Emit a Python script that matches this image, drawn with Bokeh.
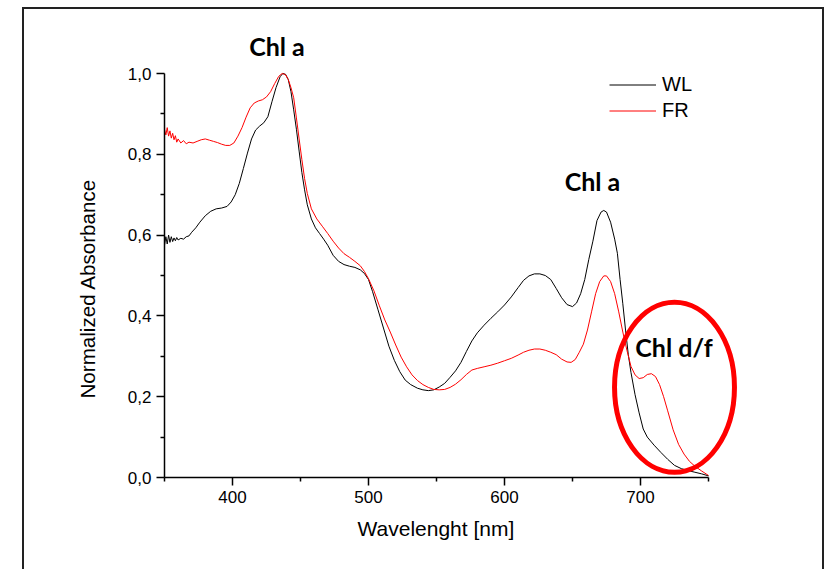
from bokeh.plotting import figure
from bokeh.models import (Range1d, FixedTicker, CustomJSTickFormatter, Legend, LegendItem,
                          Label, Title)
from bokeh.embed import file_html
from bokeh.resources import INLINE

# ---------------- data ----------------
wl_nm = [350, 351, 352, 353, 354, 355, 356, 357, 358, 359, 360, 362, 364, 366, 368, 370,
         373, 376, 380, 384, 388, 392, 396, 399, 402, 405, 408, 411, 414, 417, 420, 423,
         426, 429, 432, 435, 437, 439, 441, 443, 445, 447, 449, 451, 453, 455, 458, 461,
         464, 467, 470, 474, 478, 482, 486, 490, 494, 497, 500, 503, 507, 511, 515, 519,
         523, 527, 531, 536, 540, 544, 548, 552, 556, 560, 564, 568, 572, 576, 580, 585,
         590, 595, 600, 605, 610, 614, 618, 622, 626, 630, 634, 638, 642, 646, 650, 653,
         656, 659, 662, 665, 668, 671, 673, 675, 678, 681, 683, 685, 687, 689, 691, 693,
         696, 699, 702, 705, 710, 715, 720, 725, 730, 735, 740, 745, 750]
wl_abs = [0.575, 0.596, 0.578, 0.600, 0.582, 0.596, 0.584, 0.593, 0.586, 0.594, 0.588, 0.592,
          0.590, 0.596, 0.598, 0.607, 0.618, 0.632, 0.648, 0.659, 0.665, 0.667, 0.671, 0.682,
          0.700, 0.728, 0.765, 0.803, 0.838, 0.860, 0.870, 0.878, 0.893, 0.930, 0.965, 0.992,
          1.000, 0.998, 0.985, 0.955, 0.910, 0.862, 0.808, 0.755, 0.712, 0.675, 0.640, 0.618,
          0.604, 0.590, 0.575, 0.550, 0.535, 0.527, 0.523, 0.520, 0.514, 0.505, 0.490, 0.460,
          0.415, 0.370, 0.325, 0.290, 0.262, 0.241, 0.230, 0.221, 0.217, 0.215, 0.217, 0.224,
          0.233, 0.248, 0.264, 0.285, 0.312, 0.338, 0.358, 0.377, 0.394, 0.410, 0.427, 0.447,
          0.470, 0.488, 0.499, 0.504, 0.504, 0.500, 0.490, 0.468, 0.445, 0.428, 0.423, 0.432,
          0.455, 0.490, 0.540, 0.585, 0.636, 0.657, 0.661, 0.657, 0.632, 0.590, 0.555, 0.490,
          0.430, 0.365, 0.305, 0.260, 0.205, 0.160, 0.120, 0.100, 0.080, 0.062, 0.045, 0.030,
          0.022, 0.017, 0.013, 0.009, 0.004]

fr_nm = [350, 351, 352, 353, 354, 355, 356, 357, 358, 359, 360, 362, 364, 366, 368, 371,
         374, 377, 380, 383, 386, 389, 392, 395, 398, 401, 404, 407, 410, 413, 416, 419,
         422, 425, 428, 431, 434, 436.5, 439, 441, 443, 445, 447, 449, 451, 453, 455, 458,
         462, 466, 470, 474, 478, 482, 486, 490, 494, 497, 500, 504, 508, 512, 516, 520,
         524, 528, 532, 536, 540, 544, 548, 552, 556, 560, 564, 568, 572, 576, 580, 585,
         590, 595, 600, 605, 610, 614, 618, 622, 626, 630, 634, 638, 642, 646, 649, 652,
         655, 658, 661, 664, 667, 670, 673, 675, 678, 681, 684, 687, 690, 693, 696, 699,
         702, 705, 708, 711, 714, 717, 720, 724, 728, 732, 736, 740, 745, 750]
fr_abs = [0.862, 0.848, 0.866, 0.845, 0.858, 0.840, 0.852, 0.836, 0.846, 0.830, 0.838, 0.828,
          0.834, 0.826, 0.830, 0.828, 0.832, 0.836, 0.838, 0.835, 0.832, 0.829, 0.825, 0.822,
          0.822, 0.828, 0.845, 0.866, 0.892, 0.915, 0.927, 0.932, 0.935, 0.942, 0.955, 0.975,
          0.993, 1.000, 0.997, 0.985, 0.965, 0.940, 0.890, 0.838, 0.787, 0.740, 0.703, 0.665,
          0.640, 0.622, 0.604, 0.585, 0.568, 0.554, 0.545, 0.535, 0.524, 0.510, 0.492, 0.462,
          0.425, 0.390, 0.360, 0.328, 0.298, 0.274, 0.254, 0.240, 0.230, 0.223, 0.218, 0.217,
          0.218, 0.223, 0.231, 0.242, 0.255, 0.266, 0.270, 0.274, 0.278, 0.283, 0.289, 0.295,
          0.303, 0.310, 0.315, 0.318, 0.318, 0.315, 0.310, 0.304, 0.293, 0.286, 0.285, 0.292,
          0.310, 0.330, 0.365, 0.410, 0.455, 0.485, 0.499, 0.499, 0.485, 0.455, 0.410, 0.360,
          0.315, 0.275, 0.254, 0.245, 0.247, 0.255, 0.257, 0.250, 0.230, 0.200, 0.165, 0.118,
          0.082, 0.058, 0.040, 0.028, 0.016, 0.005]

x_ticks = [400, 500, 600, 700]
x_minor = [350, 450, 550, 650, 750]
y_ticks = [0.0, 0.2, 0.4, 0.6, 0.8, 1.0]
y_minor = [0.1, 0.3, 0.5, 0.7, 0.9]
series_names = ["WL", "FR"]
series_colors = ["#000000", "#ff0000"]
x_title = "Wavelenght [nm]"
y_title = "Normalized Absorbance"

# annotation texts
peak_labels = ["Chl a", "Chl a", "Chl d/f"]

# ---------------- figure ----------------
PX_X = 1.36     # px per nm
PX_Y = 404.0    # px per absorbance unit
FW, FH = 616, 457
x_end = 350 + FW / PX_X
y_end = FH / PX_Y

p = figure(frame_width=FW, frame_height=FH,
           min_border_left=140, min_border_right=42, min_border_top=11, min_border_bottom=92,
           x_range=Range1d(350, x_end), y_range=Range1d(0, y_end),
           output_backend="svg", toolbar_location=None,
           background_fill_color="white", border_fill_color="white")
p.outline_line_color = None
p.grid.visible = False
# outer frame of the figure panel (left, top and right edges)
p.styles = {"margin-left": "22px", "margin-top": "7px",
            "border-left": "2px solid #222222", "border-top": "2px solid #222222",
            "border-right": "2px solid #222222"}

r_wl = p.line(wl_nm, wl_abs, line_color=series_colors[0], line_width=1)
r_fr = p.line(fr_nm, fr_abs, line_color=series_colors[1], line_width=1)

fmt = CustomJSTickFormatter(code="return tick.toFixed(1).replace('.', ',');")

for ax in (p.xaxis[0], p.yaxis[0]):
    ax.axis_line_color = "black"
    ax.axis_line_width = 1.5
    ax.major_tick_line_color = "black"
    ax.minor_tick_line_color = "black"
    ax.major_tick_line_width = 1.5
    ax.minor_tick_line_width = 1.5
    ax.major_tick_in = 0
    ax.major_tick_out = 8
    ax.minor_tick_in = 0
    ax.minor_tick_out = 4
    ax.major_label_text_font = "Liberation Sans"
    ax.major_label_text_font_size = "17px"
    ax.major_label_text_color = "black"

p.xaxis.bounds = (350, 750)
p.yaxis.bounds = (0, 1.0)
p.xaxis.ticker = FixedTicker(ticks=x_ticks, minor_ticks=x_minor)
p.yaxis.ticker = FixedTicker(ticks=y_ticks, minor_ticks=y_minor)
p.yaxis.formatter = fmt
p.xaxis.major_label_standoff = 5
p.yaxis.major_label_standoff = 5

# axis titles, placed in the side panels next to the axes (centred on the axis extent)
p.add_layout(Title(text=y_title, align="left", offset=79, standoff=52,
                   text_font="Liberation Sans", text_font_size="20.6px",
                   text_font_style="normal", text_color="black"), "left")
p.add_layout(Title(text=x_title, align="left", offset=193, standoff=18,
                   text_font="Liberation Sans", text_font_size="21px",
                   text_font_style="normal", text_color="black"), "below")

# peak annotations
label_pos = [(432.7, 1.069), (664.7, 0.734), (724.6, 0.324)]
for txt, (lx, ly) in zip(peak_labels, label_pos):
    p.add_layout(Label(x=lx, y=ly, text=txt, text_align="center", text_baseline="alphabetic",
                       text_font="Lato", text_font_style="bold", text_font_size="25px",
                       text_color="black"))

# red ellipse highlighting Chl d/f
p.ellipse(x=[725.0], y=[0.2235], width=[88.2], height=[0.421],
          fill_color=None, line_color="#ff0000", line_width=5)

# legend
legend = Legend(items=[LegendItem(label=series_names[0], renderers=[r_wl]),
                       LegendItem(label=series_names[1], renderers=[r_fr])],
                location=(445, 355), orientation="vertical")
legend.background_fill_alpha = 0
legend.border_line_color = None
legend.padding = 0
legend.margin = 0
legend.spacing = 3
legend.glyph_width = 47
legend.glyph_height = 23
legend.label_height = 23
legend.label_standoff = 6
legend.label_text_font = "Liberation Sans"
legend.label_text_font_size = "20px"
legend.label_text_color = "black"
p.add_layout(legend)

open("out.html", "w").write(file_html(p, INLINE))
